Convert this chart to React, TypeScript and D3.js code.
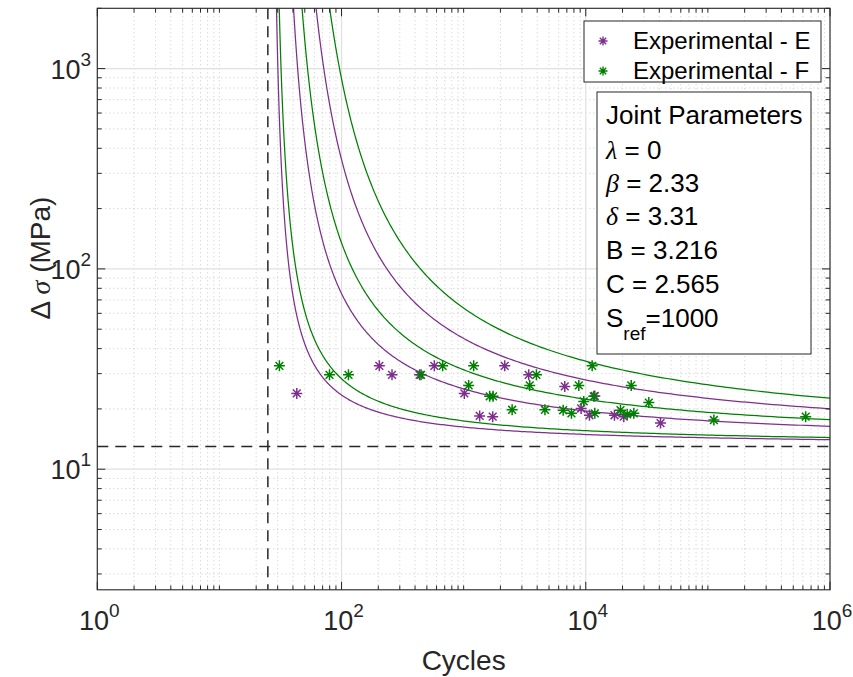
import React from 'react';
import * as d3 from 'd3';

const W = 853;
const H = 677;

// Series
const seriesNames = ['Experimental - E', 'Experimental - F'];
const seriesColors = ['#7E2F8E', '#008000'];

// Experimental E (cycles, stress range MPa)
const eCycles = [43, 204, 259, 436, 575, 2170, 1013, 1353, 1729, 3410, 6730, 11860, 9165, 10720, 17180, 20480, 40950];
const eStress = [23.9, 32.8, 29.6, 29.6, 32.8, 32.8, 23.9, 18.45, 18.3, 29.6, 25.9, 23.2, 20.1, 18.6, 18.6, 18.3, 17.0];

// Experimental F
const fCycles = [31, 79.7, 114, 448, 673, 1208, 1099, 1633, 1741, 2494, 3945, 3475, 4630, 11280, 8770, 23570, 9630, 11630, 32830, 6530, 7635, 11860, 19250, 21840, 24740, 112000, 632000];
const fStress = [32.8, 29.6, 29.6, 29.6, 32.8, 32.8, 26.2, 23.1, 23.1, 19.8, 29.6, 26.2, 19.8, 32.8, 26.2, 26.2, 21.8, 23.1, 21.5, 19.7, 19.0, 19.0, 19.7, 18.8, 19.0, 17.6, 18.3];

// Model parameters (shown in the box)
const paramB = 3.216;
const paramC = 2.565;
// Curve levels (ln N - B)(ln S - C) = level
const curveLevelsE = [0.82, 2.44, 4.58];
const curveLevelsF = [1.08, 3.25, 5.87];

const xTickExps = [0, 2, 4, 6];
const yTickExps = [1, 2, 3];

const boxLines = ['Joint Parameters', 'λ = 0', 'β = 2.33', 'δ = 3.31', 'B = 3.216', 'C = 2.565', 'S_ref=1000'];

const FONT = "'Liberation Sans', Arial, Helvetica, sans-serif";
const SERIF = "'Liberation Serif', 'DejaVu Serif', serif";

const L = 97.3, R = 830, T = 8.3, B = 589.8;

const x = d3.scaleLog().domain([1, 1e6]).range([L, R]);
const y = d3.scaleLog().domain([2.5, 2000]).range([B, T]);

function star(cx: number, cy: number, r: number) {
  const a = r * 0.7071;
  return `M${cx - r},${cy}L${cx + r},${cy}M${cx},${cy - r}L${cx},${cy + r}M${cx - a},${cy - a}L${cx + a},${cy + a}M${cx - a},${cy + a}L${cx + a},${cy - a}`;
}

function curvePoints(level: number): [number, number][] {
  const tMax = Math.log(1e6) - paramB;
  const pts: [number, number][] = [];
  const n = 500;
  const tMin = 0.05;
  for (let i = 0; i <= n; i++) {
    const t = tMin * Math.pow(tMax / tMin, i / n);
    const N = Math.exp(t + paramB);
    const S = Math.exp(paramC + level / t);
    if (S > 1e5) continue;
    pts.push([N, S]);
  }
  return pts;
}

export default function App() {
  const line = d3.line<[number, number]>().x(d => x(d[0])).y(d => y(d[1]));

  const xMinor: number[] = [];
  for (let d = 0; d < 6; d++) for (let k = 2; k <= 10; k++) {
    const v = k * Math.pow(10, d);
    if (k === 10 && (d + 1) % 2 === 0) continue;
    xMinor.push(v);
  }
  const yMinor: number[] = [];
  for (let d = 0; d < 4; d++) for (let k = 2; k <= 9; k++) {
    const v = k * Math.pow(10, d);
    if (v >= 2.5 && v <= 2000) yMinor.push(v);
  }

  const N0 = Math.exp(paramB);
  const S0 = Math.exp(paramC);

  const allCurves = [
    ...curveLevelsE.map(l => ({ l, c: seriesColors[0] })),
    ...curveLevelsF.map(l => ({ l, c: seriesColors[1] })),
  ];

  const boxX = 606;
  const boxBase = [124, 159, 192, 225, 259, 293, 327];

  return (
    <svg width={W} height={H} style={{ position: 'absolute', left: 0, top: 0, background: '#fff' }}>
      <defs>
        <clipPath id="plotclip">
          <rect x={L} y={T} width={R - L} height={B - T} />
        </clipPath>
      </defs>
      <rect x={0} y={0} width={W} height={H} fill="#fff" />
      <g stroke="#c4c4c4" strokeWidth={0.9} strokeDasharray="1,3">
        {xMinor.map((v, i) => <line key={'xm' + i} x1={x(v)} x2={x(v)} y1={T} y2={B} />)}
        {yMinor.map((v, i) => <line key={'ym' + i} x1={L} x2={R} y1={y(v)} y2={y(v)} />)}
      </g>
      <g stroke="#e0e0e0" strokeWidth={1.2}>
        {xTickExps.map(e => <line key={'xg' + e} x1={x(Math.pow(10, e))} x2={x(Math.pow(10, e))} y1={T} y2={B} />)}
        {yTickExps.map(e => <line key={'yg' + e} x1={L} x2={R} y1={y(Math.pow(10, e))} y2={y(Math.pow(10, e))} />)}
      </g>
      <g clipPath="url(#plotclip)" fill="none">
        {allCurves.map((c, i) => (
          <path key={'c' + i} d={line(curvePoints(c.l)) || ''} stroke={c.c} strokeWidth={1.25} />
        ))}
        <line x1={x(N0)} x2={x(N0)} y1={T} y2={B} stroke="#262626" strokeWidth={1.5} strokeDasharray="11,7" />
        <line x1={L} x2={R} y1={y(S0)} y2={y(S0)} stroke="#262626" strokeWidth={1.5} strokeDasharray="11,7" />
        {eCycles.map((n, i) => (
          <path key={'e' + i} d={star(x(n), y(eStress[i]), 5.5)} stroke={seriesColors[0]} strokeWidth={1.5} />
        ))}
        {fCycles.map((n, i) => (
          <path key={'f' + i} d={star(x(n), y(fStress[i]), 5.5)} stroke={seriesColors[1]} strokeWidth={1.5} />
        ))}
      </g>
      <g stroke="#262626" strokeWidth={1}>
        {xMinor.map((v, i) => (
          <g key={'xt' + i}>
            <line x1={x(v)} x2={x(v)} y1={B} y2={B - 4.3} />
            <line x1={x(v)} x2={x(v)} y1={T} y2={T + 4.3} />
          </g>
        ))}
        {xTickExps.map(e => (
          <g key={'xT' + e}>
            <line x1={x(Math.pow(10, e))} x2={x(Math.pow(10, e))} y1={B} y2={B - 8} />
            <line x1={x(Math.pow(10, e))} x2={x(Math.pow(10, e))} y1={T} y2={T + 8} />
          </g>
        ))}
        {yMinor.map((v, i) => (
          <g key={'yt' + i}>
            <line x1={L} x2={L + 4.3} y1={y(v)} y2={y(v)} />
            <line x1={R} x2={R - 4.3} y1={y(v)} y2={y(v)} />
          </g>
        ))}
        {yTickExps.map(e => (
          <g key={'yT' + e}>
            <line x1={L} x2={L + 8} y1={y(Math.pow(10, e))} y2={y(Math.pow(10, e))} />
            <line x1={R} x2={R - 8} y1={y(Math.pow(10, e))} y2={y(Math.pow(10, e))} />
          </g>
        ))}
      </g>
      <rect x={L} y={T} width={R - L} height={B - T} fill="none" stroke="#262626" strokeWidth={1.1} />
      <g fontFamily={FONT} fill="#262626">
        {xTickExps.map(e => (
          <text key={'xl' + e} x={x(Math.pow(10, e)) + 2} y={630} fontSize={27} textAnchor="middle">
            <tspan>10</tspan>
            <tspan dy={-13} fontSize={19}>{e}</tspan>
          </text>
        ))}
        {yTickExps.map(e => (
          <text key={'yl' + e} x={91} y={y(Math.pow(10, e)) + 10} fontSize={27} textAnchor="end">
            <tspan>10</tspan>
            <tspan dy={-13} fontSize={19}>{e}</tspan>
          </text>
        ))}
        <text x={(L + R) / 2} y={670} fontSize={28} textAnchor="middle">Cycles</text>
        <text transform={`translate(50,258) rotate(-90)`} fontSize={28} textAnchor="middle">
          <tspan>Δ </tspan>
          <tspan fontFamily={SERIF} fontStyle="italic">σ</tspan>
          <tspan> (MPa)</tspan>
        </text>
      </g>
      <g>
        <rect x={584} y={21} width={237} height={61} fill="#fff" stroke="#262626" strokeWidth={1} />
        {seriesNames.map((s, i) => (
          <g key={'lg' + i}>
            <path d={star(603, 41 + i * 30, 4.5)} stroke={seriesColors[i]} strokeWidth={1.4} />
            <text x={633} y={49 + i * 30} fontSize={24} fontFamily={FONT} fill="#000">{s}</text>
          </g>
        ))}
      </g>
      <g fontFamily={FONT} fill="#000" fontSize={26}>
        <rect x={597} y={92} width={214} height={262} fill="#fff" stroke="#262626" strokeWidth={1} />
        {boxLines.map((s, i) => {
          const yy = boxBase[i];
          const greek = s.match(/^([λβδ])(.*)$/);
          if (greek) {
            return (
              <text key={'bx' + i} x={boxX} y={yy}>
                <tspan fontFamily={SERIF} fontStyle="italic">{greek[1]}</tspan>
                <tspan>{greek[2]}</tspan>
              </text>
            );
          }
          const sub = s.match(/^(\w)_(\w+)(.*)$/);
          if (sub) {
            return (
              <text key={'bx' + i} x={boxX} y={yy}>
                <tspan>{sub[1]}</tspan>
                <tspan dy={13} fontSize={19}>{sub[2]}</tspan>
                <tspan dy={-13}>{sub[3]}</tspan>
              </text>
            );
          }
          return <text key={'bx' + i} x={boxX} y={yy}>{s}</text>;
        })}
      </g>
    </svg>
  );
}
